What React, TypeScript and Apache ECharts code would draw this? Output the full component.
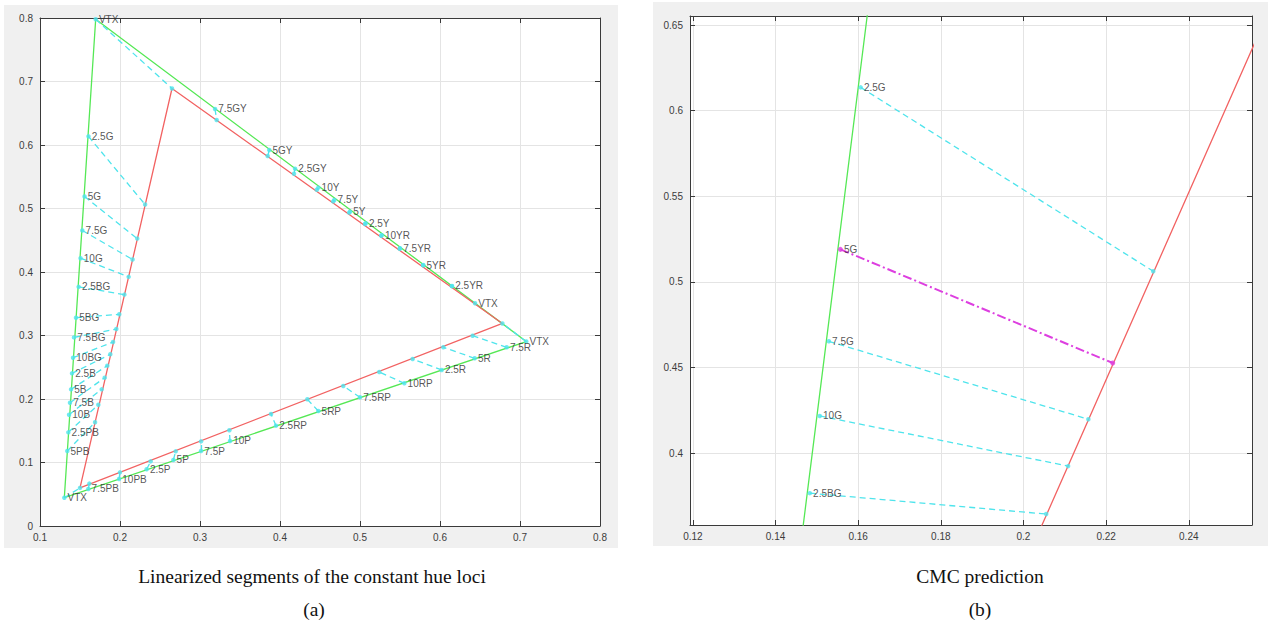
import React, { useEffect, useRef } from "react";
import * as echarts from "echarts";

type P = [number, number];

// ---- Data (CIE xy chromaticity) ----
const leftEdgeNames = ["2.5G", "5G", "7.5G", "10G", "2.5BG", "5BG", "7.5BG", "10BG", "2.5B", "5B", "7.5B", "10B", "2.5PB", "5PB"];
const leftEdgeGreen: P[] = [
  [0.1606, 0.6136], [0.1557, 0.519], [0.1529, 0.4653], [0.1507, 0.4217], [0.1483, 0.3766],
  [0.145, 0.328], [0.1425, 0.297], [0.1413, 0.265], [0.14, 0.2404], [0.1388, 0.2152],
  [0.1375, 0.1942], [0.1363, 0.1753], [0.1354, 0.1475], [0.1341, 0.1181],
];
const leftEdgeRed: P[] = [
  [0.2314, 0.5062], [0.2216, 0.4526], [0.2157, 0.4198], [0.2108, 0.3924], [0.2055, 0.3644],
  [0.1991, 0.3334], [0.1954, 0.3102], [0.1913, 0.2898], [0.1879, 0.2704], [0.1841, 0.2525],
  [0.1809, 0.2336], [0.1771, 0.2152], [0.1729, 0.191], [0.1688, 0.1633],
];

const bottomEdgeNames = ["7.5PB", "10PB", "2.5P", "5P", "7.5P", "10P", "2.5RP", "5RP", "7.5RP", "10RP", "2.5R", "5R", "7.5R"];
const bottomEdgeGreen: P[] = [
  [0.1604, 0.0583], [0.1988, 0.074], [0.2333, 0.0893], [0.2667, 0.104], [0.3013, 0.1181],
  [0.3375, 0.1339], [0.395, 0.158], [0.4479, 0.1811], [0.5, 0.2027], [0.5554, 0.2247],
  [0.6021, 0.2457], [0.6433, 0.2641], [0.6833, 0.2814],
];
const bottomEdgeRed: P[] = [
  [0.1617, 0.0668], [0.2, 0.0845], [0.2383, 0.1018], [0.2696, 0.1176], [0.3013, 0.1333],
  [0.3367, 0.1507], [0.3888, 0.1764], [0.4342, 0.1995], [0.4791, 0.2205], [0.5241, 0.2425],
  [0.5658, 0.263], [0.6042, 0.2814], [0.6408, 0.2997],
];

const topEdgeNames = ["7.5GY", "5GY", "2.5GY", "10Y", "7.5Y", "5Y", "2.5Y", "10YR", "7.5YR", "5YR", "2.5YR"];
const topEdgeGreen: P[] = [
  [0.3188, 0.6567], [0.3866, 0.5921], [0.4188, 0.5627], [0.4479, 0.5328], [0.4679, 0.5134],
  [0.4875, 0.495], [0.5071, 0.4767], [0.5271, 0.4578], [0.55, 0.4373], [0.5791, 0.411], [0.615, 0.378],
];
const topEdgeRed: P[] = [
  [0.3208, 0.6394], [0.3846, 0.5827], [0.4175, 0.5548], [0.446, 0.5295], [0.4665, 0.5112],
  [0.4865, 0.4935], [0.5063, 0.4755], [0.5265, 0.457], [0.5496, 0.4366], [0.5789, 0.4105], [0.6149, 0.3777],
];

const greenVertices: P[] = [[0.1696, 0.798], [0.7078, 0.2905], [0.1304, 0.0446]];
const redVertices: P[] = [[0.265, 0.689], [0.678, 0.319], [0.15, 0.06]];
const extraVertex: P = [0.6438, 0.3507];
const vertexName = "VTX";
const highlightHue = "5G";

const captionA = "Linearized segments of the constant hue loci";
const captionB = "CMC prediction";
const subA = "(a)";
const subB = "(b)";

// axis ranges
const leftX = { min: 0.1, max: 0.8, interval: 0.1 };
const leftY = { min: 0, max: 0.8, interval: 0.1 };
const rightX = { min: 0.1193, max: 0.2553, splitNumber: 7 };
const rightY = { min: 0.358, max: 0.6553, splitNumber: 5 };

const GREEN = "#55e855";
const RED = "#f26262";
const CYAN = "#4fe4ec";
const MAGENTA = "#dd3fe0";
const AXIS = "#3a3a3a";
const GRID = "#e4e4e4";
const FONT = "'Liberation Sans', Arial, sans-serif";

type Pair = { name: string; g: P; r: P; edge: string };
const pairs: Pair[] = [
  ...leftEdgeNames.map((n, i) => ({ name: n, g: leftEdgeGreen[i], r: leftEdgeRed[i], edge: "left" })),
  ...bottomEdgeNames.map((n, i) => ({ name: n, g: bottomEdgeGreen[i], r: bottomEdgeRed[i], edge: "bottom" })),
  ...topEdgeNames.map((n, i) => ({ name: n, g: topEdgeGreen[i], r: topEdgeRed[i], edge: "top" })),
];

function buildSeries(gi: number) {
  const xi = gi * 2;
  const yi = gi * 2;
  const isRight = gi === 1;
  const base = { xAxisIndex: xi, yAxisIndex: yi, silent: true, animation: false };
  const series: any[] = [];
  series.push({
    ...base, type: "line", symbol: "none", clip: true,
    data: [...greenVertices, greenVertices[0]],
    lineStyle: { color: GREEN, width: 1.3 }, z: 3,
  });
  series.push({
    ...base, type: "line", symbol: "none", clip: true,
    data: [...redVertices, redVertices[0]],
    lineStyle: { color: RED, width: 1.3 }, z: 3,
  });
  const normalPairs = pairs.filter((p) => !(isRight && p.name === highlightHue));
  series.push({
    ...base, type: "lines", coordinateSystem: "cartesian2d", clip: true,
    data: [
      ...normalPairs.map((p) => ({ coords: [p.g, p.r] })),
      ...greenVertices.map((v, i) => ({ coords: [v, redVertices[i]] })),
    ],
    lineStyle: { color: CYAN, width: 1.3, type: [6, 4], opacity: 1 }, z: 4,
  });
  if (isRight) {
    const hp = pairs.filter((p) => p.name === highlightHue);
    series.push({
      ...base, type: "lines", coordinateSystem: "cartesian2d", clip: true,
      data: hp.map((p) => ({ coords: [p.g, p.r] })),
      lineStyle: { color: MAGENTA, width: 2, type: [9, 3, 2, 3], opacity: 1 }, z: 5,
    });
  }
  // red-side markers
  series.push({
    ...base, type: "scatter", clip: true, symbolSize: 4.5,
    itemStyle: { color: CYAN },
    data: normalPairs.map((p) => p.r).concat(isRight ? [] : [redVertices[1], redVertices[0], redVertices[2]]),
    z: 6,
  });
  // green-side labelled markers
  const labelled: any[] = normalPairs.map((p) => ({
    value: p.g,
    name: p.name,
    label: p.edge === "bottom" ? { offset: [0, 3] } : {},
  }));
  greenVertices.forEach((v, i) =>
    labelled.push({ value: v, name: vertexName, label: i === 0 ? { offset: [0, 2] } : i === 2 ? { offset: [0, 3] } : {} })
  );
  labelled.push({ value: extraVertex, name: vertexName });
  series.push({
    ...base, type: "scatter", clip: true, symbolSize: 4.5,
    itemStyle: { color: CYAN },
    data: labelled,
    label: {
      show: true, position: "right", distance: 1, formatter: "{b}",
      fontSize: 10, fontFamily: FONT, color: "#2a2a2a",
    },
    labelLayout: { hideOverlap: false },
    z: 7,
  });
  if (isRight) {
    const hp = pairs.filter((p) => p.name === highlightHue);
    series.push({
      ...base, type: "scatter", clip: true, symbolSize: 5,
      itemStyle: { color: MAGENTA },
      data: [
        ...hp.map((p) => ({ value: p.g, name: p.name })),
        ...hp.map((p) => ({ value: p.r, name: "" })),
      ],
      label: {
        show: true, position: "right", distance: 1, formatter: "{b}",
        fontSize: 10, fontFamily: FONT, color: "#2a2a2a",
      },
      z: 8,
    });
  }
  return series;
}

function mainAxis(pos: "bottom" | "left", gi: number, range: any) {
  return {
    type: "value", gridIndex: gi, position: pos, ...range,
    axisLine: { show: true, onZero: false, lineStyle: { color: AXIS, width: 1 } },
    axisTick: { show: true, inside: true, length: 5, lineStyle: { color: AXIS } },
    axisLabel: {
      show: true, fontSize: 10, fontFamily: FONT, color: "#3c3c3c", margin: pos === "left" ? 7 : 6,
      showMinLabel: gi === 0, showMaxLabel: gi === 0,
    },
    splitLine: { show: true, lineStyle: { color: GRID, width: 1 } },
  };
}
function mirrorAxis(pos: "top" | "right", gi: number, range: any) {
  return {
    type: "value", gridIndex: gi, position: pos, ...range,
    axisLine: { show: true, onZero: false, lineStyle: { color: AXIS, width: 1 } },
    axisTick: { show: true, inside: true, length: 5, lineStyle: { color: AXIS } },
    axisLabel: { show: false },
    splitLine: { show: false },
  };
}

export default function App() {
  const ref = useRef<HTMLDivElement>(null);
  useEffect(() => {
    document.body.style.margin = "0";
    if (!ref.current) return;
    const chart = echarts.init(ref.current, undefined, { renderer: "svg" });
    const captionStyle = (text: string, x: number, y: number) => ({
      type: "text", x, y, silent: true,
      style: {
        text, fill: "#111", fontSize: 19.5, fontFamily: "'Liberation Serif', 'Times New Roman', serif",
        align: "center", verticalAlign: "middle", textAlign: "center", textVerticalAlign: "middle",
      },
    });
    chart.setOption({
      animation: false,
      grid: [
        { left: 40, top: 18, width: 560, height: 508, show: true, backgroundColor: "#fff", borderWidth: 0 },
        { left: 690, top: 16, width: 562, height: 509, show: true, backgroundColor: "#fff", borderWidth: 0 },
      ],
      xAxis: [
        mainAxis("bottom", 0, leftX), mirrorAxis("top", 0, leftX),
        mainAxis("bottom", 1, rightX), mirrorAxis("top", 1, rightX),
      ],
      yAxis: [
        mainAxis("left", 0, leftY), mirrorAxis("right", 0, leftY),
        mainAxis("left", 1, rightY), mirrorAxis("right", 1, rightY),
      ],
      series: [...buildSeries(0), ...buildSeries(1)],
      graphic: {
        elements: [
          captionStyle(captionA, 312, 576),
          captionStyle(subA, 314, 609),
          captionStyle(captionB, 980, 576),
          captionStyle(subB, 980, 609),
        ],
      },
    });
    return () => chart.dispose();
  }, []);
  return (
    <div style={{ position: "relative", width: 1270, height: 623, background: "#fff" }}>
      <div style={{ position: "absolute", left: 4, top: 5, width: 614, height: 543, background: "#f0f0f0" }} />
      <div style={{ position: "absolute", left: 653, top: 2, width: 615, height: 544, background: "#f0f0f0" }} />
      <div ref={ref} style={{ position: "absolute", left: 0, top: 0, width: 1270, height: 623 }} />
    </div>
  );
}
